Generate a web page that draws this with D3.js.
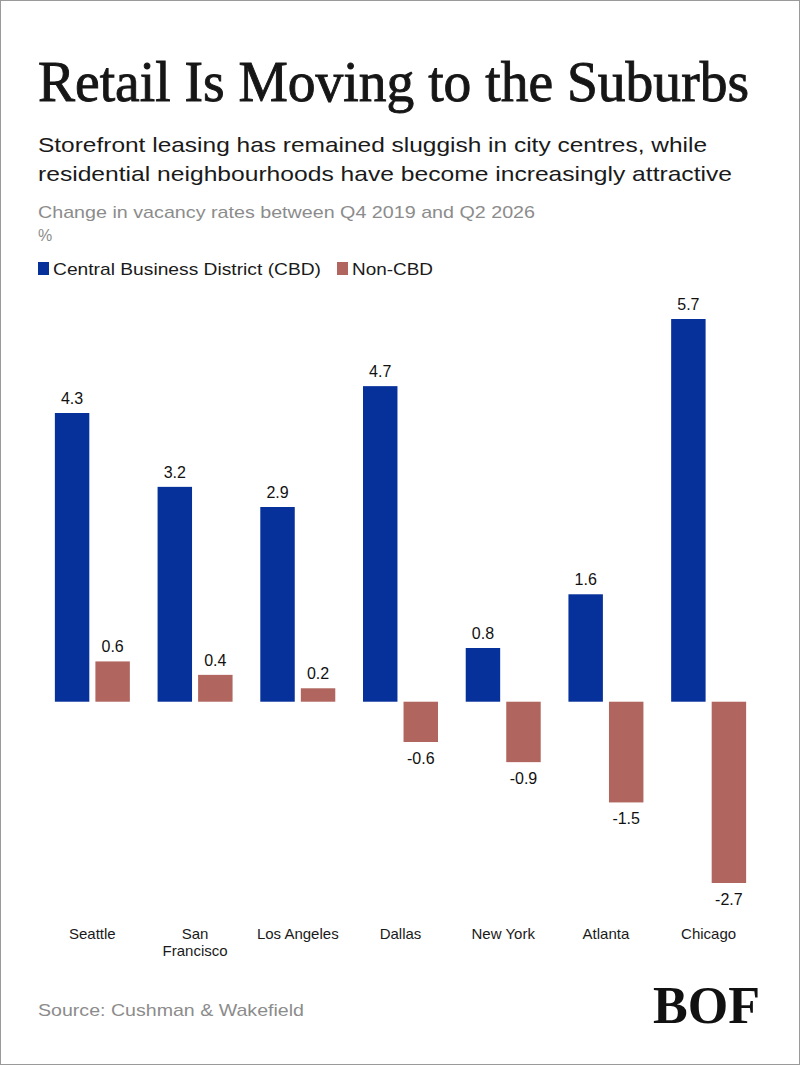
<!DOCTYPE html>
<html>
<head>
<meta charset="utf-8">
<script src="https://cdn.jsdelivr.net/npm/d3@7"></script>
<style>
  html, body { margin: 0; padding: 0; background: #fff; }
  svg { display: block; }
</style>
</head>
<body>
<svg id="chart" width="800" height="1066"></svg>
<script>
const cities = ["Seattle", "San Francisco", "Los Angeles", "Dallas", "New York", "Atlanta", "Chicago"];
const cityLines = [["Seattle"], ["San", "Francisco"], ["Los Angeles"], ["Dallas"], ["New York"], ["Atlanta"], ["Chicago"]];
const seriesNames = ["Central Business District (CBD)", "Non-CBD"];
const cbdValues = [4.3, 3.2, 2.9, 4.7, 0.8, 1.6, 5.7];
const nonCbdValues = [0.6, 0.4, 0.2, -0.6, -0.9, -1.5, -2.7];

const colors = { cbd: "#06309a", non: "#b0655f" };
const sans = "'Liberation Sans', Arial, sans-serif";
const serif = "'Liberation Serif', 'Times New Roman', serif";

const svg = d3.select("#chart");
const W = 800, H = 1066;

svg.append("rect").attr("x", 0.5).attr("y", 0.5).attr("width", W - 1).attr("height", H - 2)
  .attr("fill", "#fff").attr("stroke", "#9a9a9a").attr("stroke-width", 1);

// Title
svg.append("text").attr("x", 38).attr("y", 101)
  .attr("font-family", serif).attr("font-size", 56).attr("fill", "#161616")
  .attr("stroke", "#161616").attr("stroke-width", 0.9)
  .attr("textLength", 711).attr("lengthAdjust", "spacingAndGlyphs")
  .text("Retail Is Moving to the Suburbs");

// Subtitle
const sub = ["Storefront leasing has remained sluggish in city centres, while",
             "residential neighbourhoods have become increasingly attractive"];
const subW = [669, 694];
sub.forEach((t, i) => {
  svg.append("text").attr("x", 38).attr("y", 152 + i * 29)
    .attr("font-family", sans).attr("font-size", 21).attr("fill", "#1a1a1a")
    .attr("textLength", subW[i]).attr("lengthAdjust", "spacingAndGlyphs")
    .text(t);
});

svg.append("text").attr("x", 38).attr("y", 218)
  .attr("font-family", sans).attr("font-size", 17).attr("fill", "#8c8c8c")
  .attr("textLength", 497).attr("lengthAdjust", "spacingAndGlyphs")
  .text("Change in vacancy rates between Q4 2019 and Q2 2026");
svg.append("text").attr("x", 38).attr("y", 241)
  .attr("font-family", sans).attr("font-size", 16).attr("fill", "#8c8c8c")
  .text("%");

// Legend
const legend = [
  { name: seriesNames[0], color: colors.cbd, x: 38, w: 283 },
  { name: seriesNames[1], color: colors.non, x: 337, w: 96 }
];
legend.forEach(l => {
  svg.append("rect").attr("x", l.x).attr("y", 262).attr("width", 11).attr("height", 13)
    .attr("fill", l.color);
  svg.append("text").attr("x", l.x + 15).attr("y", 275)
    .attr("font-family", sans).attr("font-size", 17).attr("fill", "#1a1a1a")
    .attr("textLength", l.w - 15).attr("lengthAdjust", "spacingAndGlyphs")
    .text(l.name);
});

// Scales
const x0 = d3.scaleBand().domain(cities).range([41, 760]).paddingInner(0.27).paddingOuter(0.135);
const x1 = d3.scaleBand().domain(["cbd", "non"]).range([0, x0.bandwidth()]).paddingInner(0.15);
const y = d3.scaleLinear().domain([-2.7, 5.7]).range([883, 319]);

const data = [];
cities.forEach((c, i) => {
  data.push({ city: c, key: "cbd", value: cbdValues[i] });
  data.push({ city: c, key: "non", value: nonCbdValues[i] });
});

const g = svg.append("g");
g.selectAll("rect.bar").data(data).join("rect").attr("class", "bar")
  .attr("x", d => x0(d.city) + x1(d.key))
  .attr("width", x1.bandwidth())
  .attr("y", d => y(Math.max(0, d.value)))
  .attr("height", d => Math.abs(y(d.value) - y(0)))
  .attr("fill", d => colors[d.key]);

g.selectAll("text.val").data(data).join("text").attr("class", "val")
  .attr("x", d => x0(d.city) + x1(d.key) + x1.bandwidth() / 2)
  .attr("y", d => d.value >= 0 ? y(d.value) - 9 : y(d.value) + 22)
  .attr("text-anchor", "middle")
  .attr("font-family", sans).attr("font-size", 16).attr("fill", "#111")
  .text(d => d.value.toFixed(1));

// X axis labels
const xl = svg.append("g");
cities.forEach((c, i) => {
  const t = xl.append("text")
    .attr("x", x0(c) + x0.bandwidth() / 2).attr("y", 939)
    .attr("text-anchor", "middle")
    .attr("font-family", sans).attr("font-size", 15).attr("fill", "#1a1a1a");
  cityLines[i].forEach((line, j) => {
    t.append("tspan").attr("x", x0(c) + x0.bandwidth() / 2).attr("dy", j === 0 ? 0 : 17).text(line);
  });
});

// Source
svg.append("text").attr("x", 38).attr("y", 1016)
  .attr("font-family", sans).attr("font-size", 17).attr("fill", "#8c8c8c")
  .attr("textLength", 266).attr("lengthAdjust", "spacingAndGlyphs")
  .text("Source: Cushman & Wakefield");

// Logo
svg.append("text").attr("x", 653).attr("y", 1023)
  .attr("font-family", serif).attr("font-weight", "bold").attr("font-size", 52).attr("fill", "#111")
  .attr("textLength", 107).attr("lengthAdjust", "spacingAndGlyphs")
  .text("BOF");
</script>
</body>
</html>
